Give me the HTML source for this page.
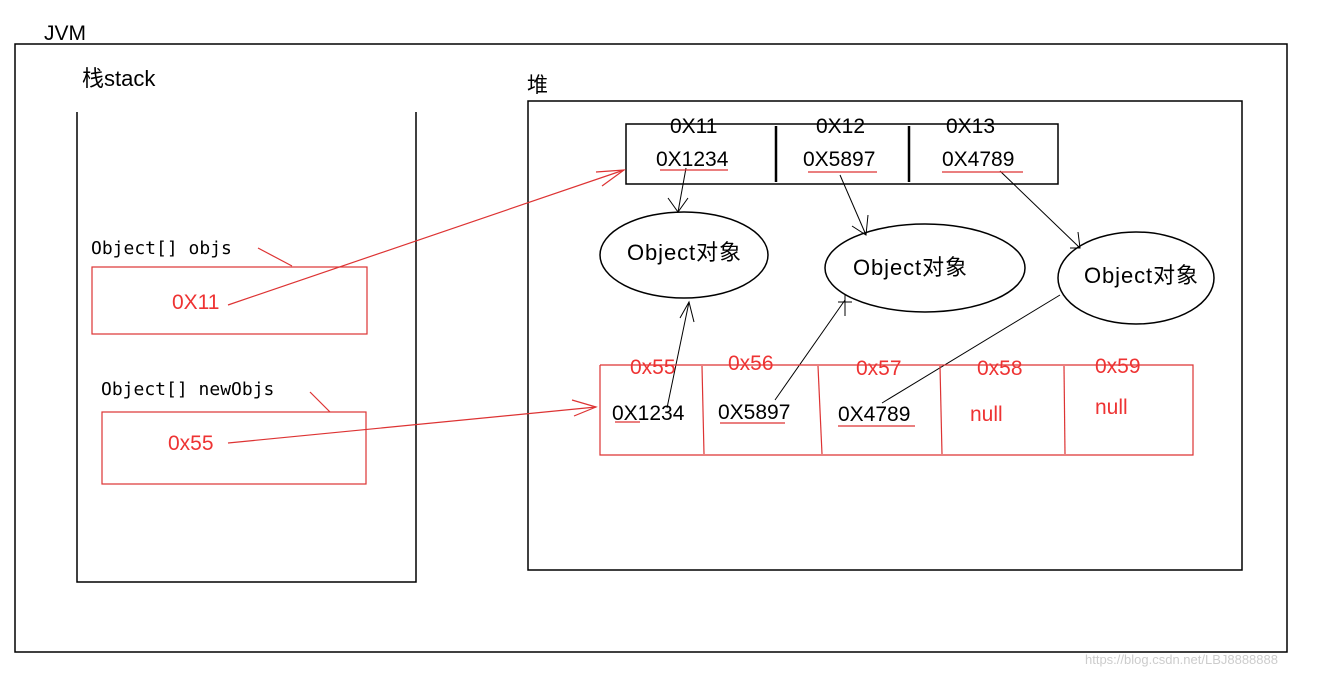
<!DOCTYPE html>
<html><head><meta charset="utf-8"><style>
html,body{margin:0;padding:0;background:#fff;width:1330px;height:676px;overflow:hidden}
text{font-family:"Liberation Sans","Noto Sans CJK SC",sans-serif}
.m{font-family:"DejaVu Sans Mono","Liberation Mono",monospace}
</style></head><body>
<svg width="1330" height="676" viewBox="0 0 1330 676" xmlns="http://www.w3.org/2000/svg">
<g fill="none" stroke="#000" stroke-width="1.5">
<rect x="15" y="44" width="1272" height="608"/>
<polyline points="77,112 77,582 416,582 416,112"/>
<rect x="528" y="101" width="714" height="469"/>
<rect x="626" y="124" width="432" height="60"/>
<line x1="776" y1="126" x2="776" y2="182" stroke-width="2.5"/>
<line x1="909" y1="126" x2="909" y2="182" stroke-width="2.5"/>
<ellipse cx="684" cy="255" rx="84" ry="43"/>
<ellipse cx="925" cy="268" rx="100" ry="44"/>
<ellipse cx="1136" cy="278" rx="78" ry="46"/>
</g>
<g fill="none" stroke="#000" stroke-width="1">
<line x1="686" y1="168" x2="678" y2="212"/><polyline points="668,198 678,212 688,198"/>
<line x1="840" y1="175" x2="866" y2="235"/><polyline points="852,226 866,235 868,215"/>
<line x1="1000" y1="171" x2="1080" y2="248"/><polyline points="1070,248 1080,248 1078,232"/>
<line x1="667" y1="408" x2="689" y2="302"/><polyline points="680,318 689,302 694,322"/>
<line x1="775" y1="400" x2="845" y2="300"/>
<line x1="838" y1="302" x2="852" y2="302"/><line x1="845" y1="294" x2="845" y2="316"/>
<line x1="882" y1="403" x2="1060" y2="295"/>
</g>
<g fill="none" stroke="#d33" stroke-width="1.2">
<rect x="92" y="267" width="275" height="67"/>
<rect x="102" y="412" width="264" height="72"/>
<line x1="258" y1="248" x2="292" y2="266"/>
<line x1="310" y1="392" x2="330" y2="412"/>
<line x1="228" y1="305" x2="624" y2="170"/><polyline points="596,172 624,170 602,186"/>
<line x1="228" y1="443" x2="596" y2="407"/><polyline points="572,400 596,407 574,416"/>
<polyline points="600,365 1193,365 1193,455 600,455 600,365"/>
<line x1="702" y1="366" x2="704" y2="454"/>
<line x1="818" y1="366" x2="822" y2="454"/>
<line x1="940" y1="366" x2="942" y2="454"/>
<line x1="1064" y1="366" x2="1065" y2="454"/>
<line x1="660" y1="170" x2="728" y2="170"/>
<line x1="808" y1="172" x2="877" y2="172"/>
<line x1="942" y1="172" x2="1023" y2="172"/>
<line x1="615" y1="422" x2="640" y2="422"/>
<line x1="720" y1="423" x2="785" y2="423"/>
<line x1="838" y1="426" x2="915" y2="426"/>
</g>
<g font-size="21" fill="#000">
<text x="44" y="40">JVM</text>
<text x="82" y="86" font-size="22">栈stack</text>
<text x="527" y="92">堆</text>
<text x="670" y="133">0X11</text><text x="656" y="166">0X1234</text>
<text x="816" y="133">0X12</text><text x="803" y="166">0X5897</text>
<text x="946" y="133">0X13</text><text x="942" y="166">0X4789</text>
<text x="627" y="260" font-size="22" textLength="114">Object对象</text>
<text x="853" y="275" font-size="22" textLength="114">Object对象</text>
<text x="1084" y="283" font-size="22" textLength="114">Object对象</text>
<text x="612" y="420">0X1234</text>
<text x="718" y="419">0X5897</text>
<text x="838" y="421">0X4789</text>
</g>
<g font-size="18" class="m" fill="#000">
<text x="91" y="254" class="m">Object[] objs</text>
<text x="101" y="395" class="m">Object[] newObjs</text>
</g>
<g font-size="21" fill="#e33">
<text x="172" y="309">0X11</text>
<text x="168" y="450">0x55</text>
<text x="630" y="374">0x55</text>
<text x="728" y="370">0x56</text>
<text x="856" y="375">0x57</text>
<text x="977" y="375">0x58</text>
<text x="1095" y="373">0x59</text>
<text x="970" y="421">null</text>
<text x="1095" y="414">null</text>
</g>
<text x="1085" y="664" font-size="13" fill="#ccc">https://blog.csdn.net/LBJ8888888</text>
</svg>
</body></html>
